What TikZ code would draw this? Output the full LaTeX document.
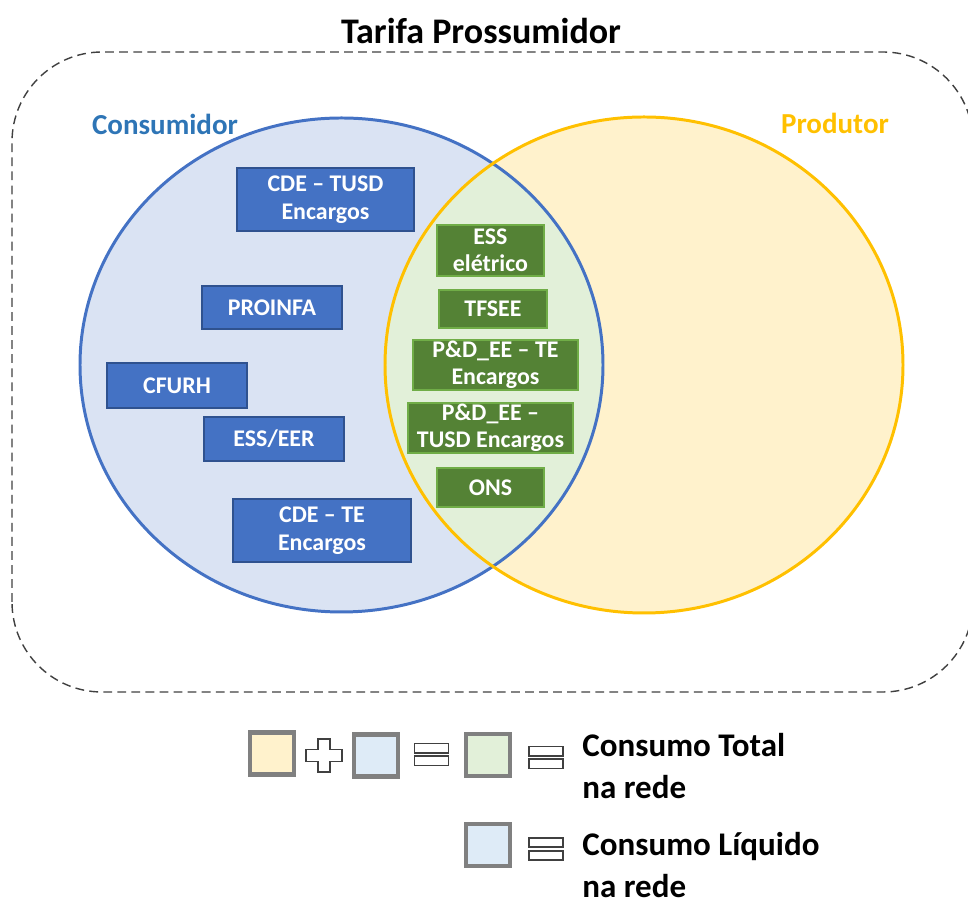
\documentclass[tikz,border=0pt]{standalone}
\usepackage{fontspec}
\setmainfont{Carlito}
\usepackage{tikz}
\usetikzlibrary{positioning, calc}

\definecolor{consfill}{HTML}{DAE3F3}
\definecolor{consline}{HTML}{4472C4}
\definecolor{consboxline}{HTML}{2F528F}
\definecolor{consname}{HTML}{2E75B6}
\definecolor{prodfill}{HTML}{FFF2CC}
\definecolor{prodline}{HTML}{FFC000}
\definecolor{bothfill}{HTML}{E2F0D9}
\definecolor{bothbox}{HTML}{548235}
\definecolor{bothboxline}{HTML}{70AD47}
\definecolor{legfill}{HTML}{DEEBF7}

\begin{document}
\begin{tikzpicture}[
    cons/.style={x radius=5.23, y radius=4.94},
    prod/.style={x radius=5.18, y radius=4.96},
    cbox/.style={rectangle, draw=consboxline, line width=0.6pt, fill=consline, text=white, align=center, inner sep=0pt, font=\fontsize{13.6}{16}\selectfont\bfseries},
    gbox/.style={rectangle, draw=bothboxline, line width=0.8pt, fill=bothbox, text=white, align=center, inner sep=0pt, font=\fontsize{13.6}{15.4}\selectfont\bfseries},
    legsq/.style={rectangle, draw=black!50, line width=2.3pt, minimum width=0.88cm, minimum height=0.84cm, inner sep=0pt},
    legtxt/.style={anchor=west, align=left, inner sep=0pt, font=\fontsize{18.8}{23.9}\selectfont\bfseries},
    sign/.style={draw=black!75, line width=0.9pt, fill=white}
]
    \useasboundingbox (0,0) rectangle (19.36,18.04);

    \node[font=\fontsize{20.5}{24}\selectfont\bfseries] (title) at (9.62,17.42) {Tarifa Prossumidor};
    \draw[black!75, line width=0.8pt, dash pattern=on 5pt off 3pt, rounded corners=1.8cm] (0.24,4.2) rectangle (19.46,17.0);

    % the two sets and their overlap
    \coordinate (ccons) at (6.83,10.74);
    \coordinate (cprod) at (12.88,10.74);
    \fill[consfill] (ccons) ellipse [cons];
    \fill[prodfill] (cprod) ellipse [prod];
    \begin{scope}
        \clip (ccons) ellipse [cons];
        \fill[bothfill] (cprod) ellipse [prod];
    \end{scope}
    \draw[consline, line width=1.7pt] (ccons) ellipse [cons];
    \draw[prodline, line width=1.7pt] (cprod) ellipse [prod];

    \node[text=consname, font=\fontsize{16.5}{20}\selectfont\bfseries] (consumidor) at (3.3,15.56) {Consumidor};
    \node[text=prodline, font=\fontsize{16.5}{20}\selectfont\bfseries] (produtor) at (16.7,15.58) {Produtor};

    % consumer-only charges
    \node[cbox, minimum width=3.54cm, minimum height=1.26cm] (cdetusd) at (6.51,14.05) {CDE – TUSD\\Encargos};
    \node[cbox, minimum width=2.8cm, minimum height=0.86cm] (proinfa) at (5.44,11.89) {PROINFA};
    \node[cbox, minimum width=2.8cm, minimum height=0.9cm] (cfurh) at (3.54,10.33) {CFURH};
    \node[cbox, minimum width=2.8cm, minimum height=0.88cm] (esseer) at (5.48,9.26) {ESS/EER};
    \node[cbox, minimum width=3.56cm, minimum height=1.26cm] (cdete) at (6.44,7.43) {CDE – TE\\Encargos};

    % charges in the overlap
    \node[gbox, minimum width=2.14cm, minimum height=1.02cm] (ess) at (9.81,13.03) {ESS\\elétrico};
    \node[gbox, minimum width=2.16cm, minimum height=0.76cm] (tfsee) at (9.86,11.86) {TFSEE};
    \node[gbox, minimum width=3.3cm, minimum height=1.0cm] (pdte) at (9.91,10.74) {P\&D\_EE – TE\\Encargos};
    \node[gbox, minimum width=3.3cm, minimum height=1.0cm] (pdtusd) at (9.81,9.48) {P\&D\_EE –\\TUSD Encargos};
    \node[gbox, minimum width=2.14cm, minimum height=0.78cm] (ons) at (9.81,8.29) {ONS};

    % legend
    \node[legsq, fill=prodfill] (lprod) at (5.44,2.97) {};
    \node[legsq, fill=legfill] (lcons) at (7.52,2.93) {};
    \node[legsq, fill=bothfill] (lboth) at (9.76,2.94) {};
    \node[legsq, fill=legfill] (lnet) at (9.76,1.14) {};
    \begin{scope}[shift={(6.48,2.93)}]
        \draw[sign] (-0.12,0.33) -- (0.12,0.33) -- (0.12,0.12) -- (0.36,0.12) -- (0.36,-0.12) -- (0.12,-0.12)
            -- (0.12,-0.33) -- (-0.12,-0.33) -- (-0.12,-0.12) -- (-0.36,-0.12) -- (-0.36,0.12) -- (-0.12,0.12) -- cycle;
    \end{scope}
    \foreach \x/\y in {8.63/2.95, 10.92/2.89, 10.92/1.06} {
        \draw[sign] (\x-0.34,\y+0.035) rectangle (\x+0.34,\y+0.22);
        \draw[sign] (\x-0.34,\y-0.22) rectangle (\x+0.34,\y-0.035);
    }
    \node[legtxt] (ltotal) at (11.64,2.72) {Consumo Total\\na rede};
    \node[legtxt] (lliquido) at (11.64,0.74) {Consumo Líquido\\na rede};
\end{tikzpicture}
\end{document}
